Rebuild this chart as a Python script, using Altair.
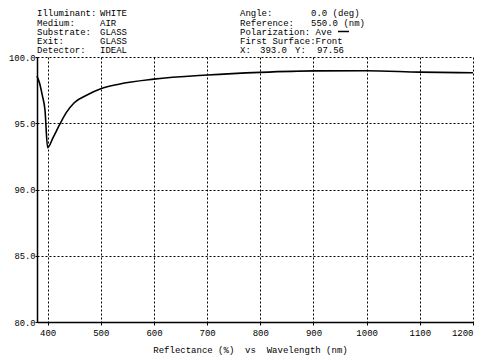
import altair as alt
import pandas as pd

wavelength = [380, 385, 390, 395, 400, 410, 422, 435, 450, 475, 500, 534, 600, 700, 800, 900, 1000, 1100, 1200]
reflectance = [98.56, 98.0, 97.1, 96.0, 93.16, 93.9, 94.85, 95.8, 96.55, 97.15, 97.6, 97.95, 98.33, 98.64, 98.84, 98.95, 98.96, 98.86, 98.81]

x_ticks = [400, 500, 600, 700, 800, 900, 1000, 1100, 1200]
y_ticks = [80, 85, 90, 95, 100]

left_labels = ["Illuminant:", "Medium:", "Substrate:", "Exit:", "Detector:"]
left_values = ["WHITE", "AIR", "GLASS", "GLASS", "IDEAL"]
right_labels = ["Angle:", "Reference:", "Polarization: Ave", "First Surface:Front", "X:"]
right_values = ["0.0 (deg)", "550.0 (nm)", "", "", ""]
cursor_parts = [("393.0", 260), ("Y:", 295), ("97.56", 317)]

FONT = "Liberation Mono"
W, H = 436, 265
OX, OY = 37, 57

df = pd.DataFrame({"wl": wavelength, "r": reflectance})

x_enc = alt.X("wl:Q", scale=alt.Scale(domain=[380, 1200], nice=False, zero=False),
              axis=alt.Axis(values=x_ticks, format="d",
                            title="Reflectance\u00a0(%)\u00a0\u00a0vs\u00a0\u00a0Wavelength\u00a0(nm)",
                            grid=True, gridColor="black", gridDash=[2, 2], gridOpacity=1, gridWidth=1,
                            domainColor="black", domainWidth=1.5, tickColor="black", tickSize=3,
                            labelFont=FONT, labelFontSize=9, labelColor="black", labelPadding=3,
                            titleFont=FONT, titleFontSize=9, titleFontWeight="normal", titleColor="black",
                            titlePadding=8, titleX=213))
y_enc = alt.Y("r:Q", scale=alt.Scale(domain=[80, 100], nice=False, zero=False),
              axis=alt.Axis(values=y_ticks, format=".1f", title=None,
                            grid=True, gridColor="black", gridDash=[2, 2], gridOpacity=1, gridWidth=1,
                            domainColor="black", domainWidth=1.5, tickColor="black", tickSize=2,
                            labelFont=FONT, labelFontSize=8.8, labelColor="black", labelPadding=0))

line = alt.Chart(df).mark_line(color="black", strokeWidth=1.6, interpolate="monotone").encode(x=x_enc, y=y_enc)

layers = [line]
row_y = [13, 22.5, 31.5, 40.5, 49.5]
row_y = [v - OY for v in row_y]

def txt(s, x, y):
    return alt.Chart(pd.DataFrame({"t": [s]})).mark_text(
        font=FONT, fontSize=9, color="black", align="left", baseline="middle"
    ).encode(text="t:N", x=alt.value(x), y=alt.value(y))

for i in range(5):
    layers.append(txt(left_labels[i], 37 - OX, row_y[i]))
    layers.append(txt(left_values[i], 100 - OX, row_y[i]))
    layers.append(txt(right_labels[i], 240 - OX, row_y[i]))
    if right_values[i]:
        layers.append(txt(right_values[i], 311 - OX, row_y[i]))
for s, px in cursor_parts:
    layers.append(txt(s, px - OX, row_y[4]))

pol_line = alt.Chart(pd.DataFrame({"a": [0]})).mark_rule(color="black", strokeWidth=1.5).encode(
    x=alt.value(338 - OX), x2=alt.value(349 - OX), y=alt.value(row_y[2]))
layers.append(pol_line)

chart = alt.layer(*layers).properties(
    width=W, height=H,
    autosize=alt.AutoSizeParams(type="none"),
    padding={"left": OX - 8, "top": OY - 8, "right": 10, "bottom": 40},
    background="white",
).configure_view(stroke=None)

chart.save("out.html", embed_options={"renderer": "svg", "actions": False})
